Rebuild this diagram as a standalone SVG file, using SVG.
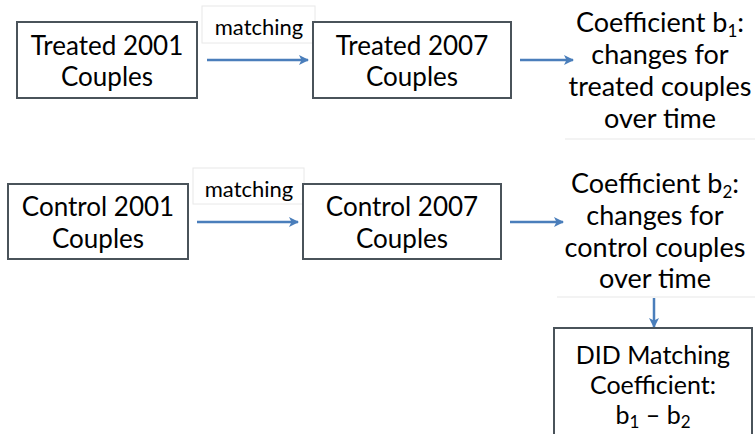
<svg xmlns="http://www.w3.org/2000/svg" width="755" height="434" viewBox="0 0 755 434">
<style>
.box{fill:#fff;stroke:#4a535a;stroke-width:2}
.lbl{fill:#fff;stroke:#e8e8e8;stroke-width:1}
.sep{stroke:#e8e8e8;stroke-width:1.2}
.t{font-family:Lato,"Liberation Sans",sans-serif;font-size:26px;fill:#000;text-anchor:middle}
.c{font-family:Lato,"Liberation Sans",sans-serif;font-size:27px;fill:#000;text-anchor:middle}
.d{font-family:Lato,"Liberation Sans",sans-serif;font-size:25px;fill:#000;text-anchor:middle}
.m{font-family:Lato,"Liberation Sans",sans-serif;font-size:22px;fill:#000;text-anchor:middle}
.sub{font-size:17px}
.arr{stroke:#4a7ebb;stroke-width:2.5;fill:none;marker-end:url(#ah)}
</style>
<defs>
<marker id="ah" viewBox="0 0 10 10" refX="9" refY="5" markerWidth="4" markerHeight="4" orient="auto" markerUnits="strokeWidth">
<path d="M0,0 L10,5 L0,10 L2.5,5 Z" fill="#4a7ebb"/>
</marker>
</defs>
<rect width="755" height="434" fill="#fff"/>
<g id="connectors">
<line class="arr" x1="207" y1="60" x2="308" y2="60"/>
<line class="arr" x1="520" y1="60" x2="573" y2="60"/>
<line class="arr" x1="197" y1="222" x2="298" y2="222"/>
<line class="arr" x1="510" y1="222" x2="563" y2="222"/>
<line class="arr" x1="654" y1="298" x2="654" y2="327"/>
</g>
<g id="label-matching-1">
<rect class="lbl" x="202" y="6" width="113" height="37"/>
<text class="m" x="259" y="35">matching</text>
</g>
<g id="label-matching-2">
<rect class="lbl" x="193" y="168" width="111" height="36"/>
<text class="m" x="249" y="197">matching</text>
</g>
<g id="treated2001">
<rect class="box" x="17" y="22" width="180" height="76"/>
<text class="t" x="107" y="55">Treated 2001</text>
<text class="t" x="107" y="86">Couples</text>
</g>
<g id="treated2007">
<rect class="box" x="313" y="22" width="198" height="76"/>
<text class="t" x="412" y="55">Treated 2007</text>
<text class="t" x="412" y="86">Couples</text>
</g>
<g id="coef-b1">
<text class="c" x="660" y="32">Coefficient b<tspan class="sub" dy="5">1</tspan><tspan dy="-5">:</tspan></text>
<text class="c" x="660" y="64">changes for</text>
<text class="c" x="660" y="96">treated couples</text>
<text class="c" x="660" y="128">over time</text>
<line class="sep" x1="565" y1="139" x2="755" y2="139"/>
</g>
<g id="control2001">
<rect class="box" x="8" y="184" width="180" height="75"/>
<text class="t" x="98" y="216">Control 2001</text>
<text class="t" x="98" y="248">Couples</text>
</g>
<g id="control2007">
<rect class="box" x="303" y="184" width="198" height="75"/>
<text class="t" x="402" y="216">Control 2007</text>
<text class="t" x="402" y="248">Couples</text>
</g>
<g id="coef-b2">
<text class="c" x="655" y="193">Coefficient b<tspan class="sub" dy="5">2</tspan><tspan dy="-5">:</tspan></text>
<text class="c" x="655" y="225">changes for</text>
<text class="c" x="655" y="257">control couples</text>
<text class="c" x="655" y="288">over time</text>
<line class="sep" x1="557" y1="297" x2="755" y2="297"/>
</g>
<g id="did">
<rect class="box" x="554" y="328" width="198" height="130"/>
<text class="d" x="653" y="364">DID Matching</text>
<text class="d" x="653" y="394">Coefficient:</text>
<text class="d" x="653" y="424">b<tspan class="sub" dy="4">1</tspan><tspan dy="-4"> – b</tspan><tspan class="sub" dy="4">2</tspan></text>
</g>
</svg>
